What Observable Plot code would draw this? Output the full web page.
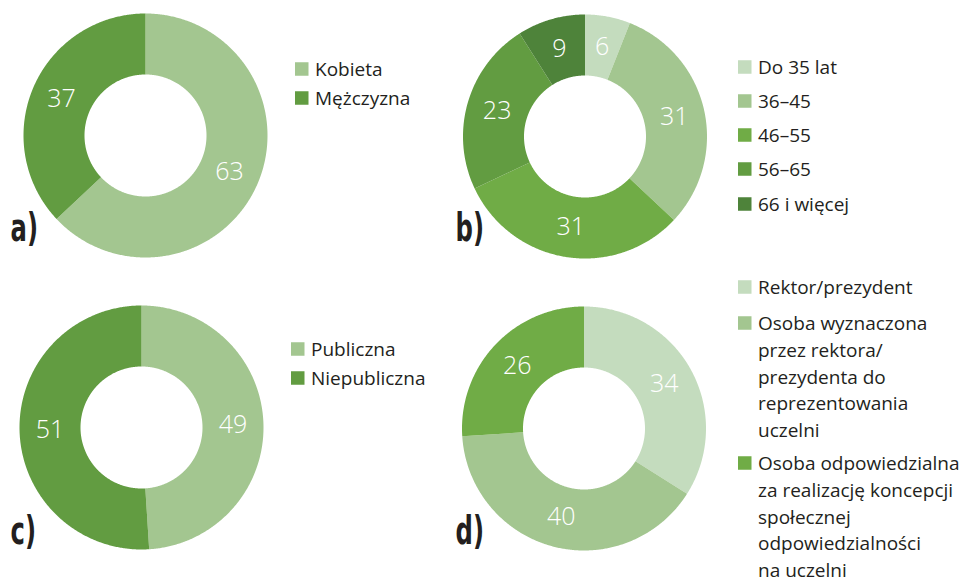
<!DOCTYPE html>
<html>
<head>
<meta charset="utf-8">
<script src="https://cdn.jsdelivr.net/npm/d3@7"></script>
<script src="https://cdn.jsdelivr.net/npm/@observablehq/plot@0.6"></script>
<style>
  html, body { margin: 0; padding: 0; background: #fff; }
  #chart { width: 968px; height: 578px; }
</style>
</head>
<body>
<div id="chart"></div>
<script>
// ---------- data ----------
const genderCategories = ["Kobieta", "Mężczyzna"];
const genderValues = [63, 37];

const ageCategories = ["Do 35 lat", "36–45", "46–55", "56–65", "66 i więcej"];
const ageValues = [6, 31, 31, 23, 9];

const typeCategories = ["Publiczna", "Niepubliczna"];
const typeValues = [49, 51];

const roleCategories = [
  "Rektor/prezydent",
  "Osoba wyznaczona przez rektora/prezydenta do reprezentowania uczelni",
  "Osoba odpowiedzialna za realizację koncepcji społecznej odpowiedzialności na uczelni"
];
const roleValues = [34, 40, 26];
const roleLegendLabels = [
  "Rektor/prezydent",
  "Osoba wyznaczona\nprzez rektora/\nprezydenta do\nreprezentowania\nuczelni",
  "Osoba odpowiedzialna\nza realizację koncepcji\nspołecznej\nodpowiedzialności\nna uczelni"
];

const panelLabels = ["a)", "b)", "c)", "d)"];

// ---------- styles ----------
const G1 = "#c4dcbe", G2 = "#a3c690", G3 = "#70ac46", G4 = "#629c41", G5 = "#4e833a";
const TEXT = "#231f20";
const FONT = "'Open Sans', Lato, sans-serif";
const LEGEND_FS = 19;
const LINE_H = 1.405;

// ---------- layout ----------
const W = 968, H = 578;
const R_OUT = 122, R_IN = 61;
const panels = [
  {cats: genderCategories, vals: genderValues, legend: genderCategories, colors: [G2, G4],
   cx: 145, cy: 135, lx: 295, ly: [69, 98], tx: 10, ty: 240},
  {cats: ageCategories, vals: ageValues, legend: ageCategories, colors: [G1, G2, G3, G4, G5],
   cx: 584.5, cy: 136, lx: 738, ly: [67, 101, 135, 169, 204], tx: 455, ty: 240},
  {cats: typeCategories, vals: typeValues, legend: typeCategories, colors: [G2, G4],
   cx: 141, cy: 427, lx: 291, ly: [349, 378], tx: 10, ty: 543},
  {cats: roleCategories, vals: roleValues, legend: roleLegendLabels, colors: [G1, G2, G3],
   cx: 583.5, cy: 428, lx: 738, ly: [287, 323, 463], tx: 455, ty: 543}
];

// ---------- derived tables ----------
const slicePoints = [];
const sliceLabels = [];
const swatches = [];
const legendTexts = [];
const tags = [];
const colorDomain = [];
const colorRange = [];

panels.forEach((p, pi) => {
  p.cats.forEach((c, i) => { colorDomain.push(c); colorRange.push(p.colors[i]); });
  const arcs = d3.pie().sort(null).value(d => d)(p.vals);
  arcs.forEach((a, i) => {
    const id = pi + "-" + i;
    const cat = p.cats[i];
    const steps = Math.max(4, Math.ceil((a.endAngle - a.startAngle) / (Math.PI / 360)));
    for (let s = 0; s <= steps; s++) {
      const t = a.startAngle + (a.endAngle - a.startAngle) * s / steps;
      slicePoints.push({id, cat, x: p.cx + R_OUT * Math.sin(t), y: p.cy - R_OUT * Math.cos(t)});
    }
    for (let s = steps; s >= 0; s--) {
      const t = a.startAngle + (a.endAngle - a.startAngle) * s / steps;
      slicePoints.push({id, cat, x: p.cx + R_IN * Math.sin(t), y: p.cy - R_IN * Math.cos(t)});
    }
    const mid = (a.startAngle + a.endAngle) / 2;
    const rl = (R_OUT + R_IN) / 2;
    sliceLabels.push({x: p.cx + rl * Math.sin(mid), y: p.cy - rl * Math.cos(mid), text: String(p.vals[i])});
    swatches.push({cat, x1: p.lx, x2: p.lx + 13.5, y1: p.ly[i] - 6.75, y2: p.ly[i] + 6.75});
    // baseline of first line = y + 0.71 * lineHeight em (Plot "top" anchor); centre caps on swatch
    legendTexts.push({x: p.lx + 19.5, y: p.ly[i] + 6.8 - 0.71 * LINE_H * LEGEND_FS, text: p.legend[i]});
  });
  tags.push({x: p.tx, y: p.ty, text: panelLabels[pi]});
});

// ---------- plot ----------
const chart = Plot.plot({
  width: W,
  height: H,
  margin: 0,
  style: {background: "#fff", fontFamily: FONT},
  x: {domain: [0, W], range: [0, W], axis: null},
  y: {domain: [0, H], range: [0, H], axis: null},
  color: {type: "ordinal", domain: colorDomain, range: colorRange},
  marks: [
    Plot.line(slicePoints, {x: "x", y: "y", z: "id", fill: "cat", stroke: "none", curve: "linear-closed"}),
    Plot.text(sliceLabels, {x: "x", y: "y", text: "text", fill: "white", fontSize: 25, fontWeight: 300, fontFamily: FONT}),
    Plot.rect(swatches, {x1: "x1", x2: "x2", y1: "y1", y2: "y2", fill: "cat"}),
    Plot.text(legendTexts, {x: "x", y: "y", text: "text", textAnchor: "start", lineAnchor: "top",
      lineHeight: LINE_H, fontSize: LEGEND_FS, fill: TEXT, fontFamily: FONT}),
    Plot.text(tags, {x: "x", y: "y", text: "text", textAnchor: "start", lineAnchor: "bottom",
      fontSize: 27, fontWeight: "bold", fill: TEXT, fontFamily: "'Liberation Sans Narrow', 'DejaVu Sans Condensed', sans-serif"})
  ]
});
document.getElementById("chart").appendChild(chart);

// stretch panel tags vertically to mimic the condensed display face
d3.select(chart).selectAll("text").each(function () {
  if (panelLabels.includes(this.textContent)) {
    const tr = this.getAttribute("transform") || "";
    this.setAttribute("transform", tr + " scale(1,1.45)");
  }
});
</script>
</body>
</html>
